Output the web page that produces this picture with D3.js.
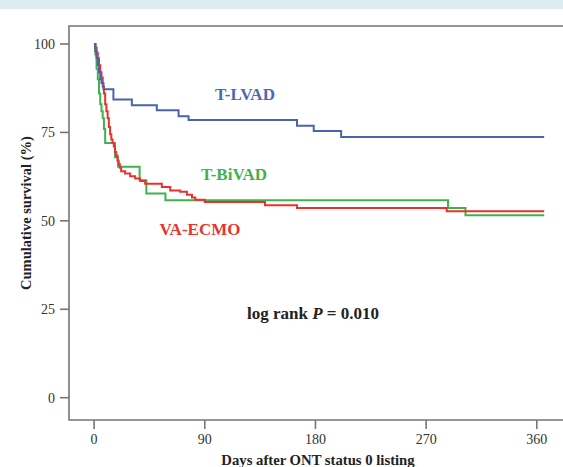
<!DOCTYPE html>
<html><head><meta charset="utf-8">
<script src="https://cdn.jsdelivr.net/npm/d3@7"></script>
<style>body{margin:0;background:#fff}svg{display:block}</style>
</head><body>
<script>
// [day, survival %] step points
const tlvad = [[0,100],[1,98],[2,96],[3,94],[4,92],[5,90],[6,89],[7.6,87.2],[15.7,84.3],[30.7,82.7],[51,81.3],[68.7,79.6],[76.8,78.5],[165,76.9],[178.6,75.4],[200.9,73.7],[366,73.7]];
const tbivad = [[0,100],[1,97],[2,93],[3,90],[4,86],[5,83],[6,81],[7,79],[8,76],[9,72],[17,68],[19.5,65.3],[37,61.5],[42.5,57.7],[58,55.8],[287.8,53.6],[302,51.6],[366,51.6]];
const vaecmo = [[0,100],[1,99],[2,97.5],[3,96],[4,94],[5,92],[6,90.5],[7,88],[8,86],[9,83],[10,81],[11,79],[12,76.5],[13,74.5],[14,73],[15,72],[16,71],[17,69.5],[18,68.5],[19,67],[20,66],[21,65],[22,64],[25.2,63.4],[29.3,62.6],[33.4,62],[37.5,61.3],[41.5,60.5],[55.1,59.6],[61.9,58.6],[70,58.2],[75.5,57.4],[79.6,56.6],[82.3,56],[90,55.3],[139,54.4],[165,53.6],[286.7,52.7],[366,52.7]];
const xTicks = [0,90,180,270,360];
const yTicks = [0,25,50,75,100];

const W=563,H=467;
const svg=d3.select("body").append("svg").attr("width",W).attr("height",H);
svg.append("rect").attr("x",0).attr("y",0).attr("width",W).attr("height",9).attr("fill","#dcecf1");

const x=d3.scaleLinear().domain([0,360]).range([94.1,536.8]);
const y=d3.scaleLinear().domain([0,100]).range([397.7,44]);
const font="'Liberation Serif','Times New Roman',serif";

// frame
const fl=69, ft=26, fb=420;
svg.append("path").attr("d",`M${W},${ft}H${fl}V${fb}H${W}`).attr("fill","none").attr("stroke","#7a7474").attr("stroke-width",1.6);

// y axis ticks
const yg=svg.append("g");
yTicks.forEach(t=>{
  yg.append("line").attr("x1",60).attr("x2",fl).attr("y1",y(t)).attr("y2",y(t)).attr("stroke","#7a7474").attr("stroke-width",1.6);
  yg.append("text").attr("x",55).attr("y",y(t)).attr("dy","0.35em").attr("text-anchor","end")
    .attr("font-family",font).attr("font-size",14).attr("fill","#333").text(t);
});
const xg=svg.append("g");
xTicks.forEach(t=>{
  xg.append("line").attr("x1",x(t)).attr("x2",x(t)).attr("y1",fb).attr("y2",fb+9).attr("stroke","#7a7474").attr("stroke-width",1.6);
  xg.append("text").attr("x",x(t)).attr("y",444).attr("text-anchor","middle")
    .attr("font-family",font).attr("font-size",14).attr("fill","#333").text(t);
});
svg.append("text").attr("x",318).attr("y",465).attr("text-anchor","middle").attr("font-family",font)
  .attr("font-weight","bold").attr("font-size",14.7).attr("fill","#222").text("Days after ONT status 0 listing");
svg.append("text").attr("transform","translate(31,213) rotate(-90)").attr("text-anchor","middle").attr("font-family",font)
  .attr("font-weight","bold").attr("font-size",14.5).attr("fill","#222").text("Cumulative survival (%)");

const line=d3.line().x(d=>x(d[0])).y(d=>y(d[1])).curve(d3.curveStepAfter);
[[tbivad,"#3fb24d"],[vaecmo,"#e8322e"],[tlvad,"#4a63ad"]].forEach(([data,c])=>{
  svg.append("path").datum(data).attr("d",line).attr("fill","none").attr("stroke",c).attr("stroke-width",2);
});

const lab=(t,cx,by,c)=>svg.append("text").attr("x",cx).attr("y",by).attr("text-anchor","middle").attr("font-family",font)
  .attr("font-weight","bold").attr("font-size",17).attr("fill",c).text(t);
lab("T-LVAD",245,100,"#4a6ab3");
lab("T-BiVAD",234,180,"#3fb24d");
lab("VA-ECMO",200,235,"#e8322e");

const lr=svg.append("text").attr("x",313).attr("y",319).attr("text-anchor","middle").attr("font-family",font)
  .attr("font-weight","bold").attr("font-size",17).attr("fill","#222");
lr.append("tspan").text("log rank ");
lr.append("tspan").attr("font-style","italic").text("P");
lr.append("tspan").text(" = 0.010");
</script>
</body></html>
